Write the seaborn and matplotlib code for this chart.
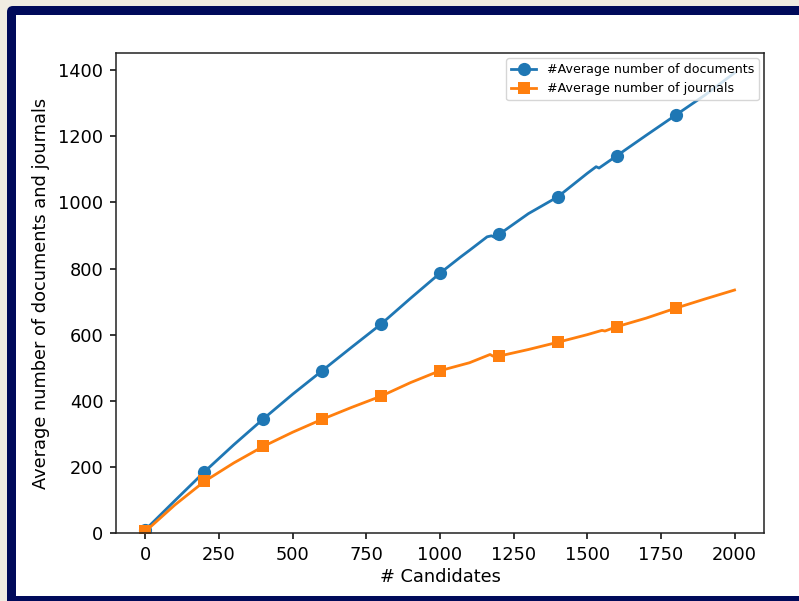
import matplotlib
matplotlib.use("Agg")
import matplotlib.pyplot as plt
from matplotlib.patches import FancyBboxPatch, Rectangle
import seaborn as sns
import pandas as pd

# ---- data ----
candidates_docs = [0, 100, 200, 300, 400, 500, 600, 700, 800, 900, 1000, 1070,
                   1100, 1160, 1175, 1190, 1200, 1300, 1400, 1500, 1530, 1540,
                   1600, 1700, 1800, 1900, 2000]
avg_documents = [10, 98, 185, 267, 345, 420, 491, 562, 632, 710, 786, 835,
                 855, 896, 899, 892, 903, 966, 1017, 1088, 1108, 1104,
                 1141, 1203, 1264, 1325, 1392]
docs_marker_x = [0, 200, 400, 600, 800, 1000, 1200, 1400, 1600, 1800]

candidates_jour = [0, 100, 200, 300, 400, 500, 600, 700, 800, 900, 1000, 1100,
                   1170, 1180, 1200, 1300, 1400, 1500, 1550, 1560, 1600, 1700,
                   1800, 1900, 2000]
avg_journals = [5, 85, 156, 212, 262, 305, 344, 380, 414, 455, 491, 515,
                540, 535, 535, 555, 577, 600, 613, 611, 624, 650,
                680, 708, 735]
jour_marker_x = [0, 200, 400, 600, 800, 1000, 1200, 1400, 1600, 1800]

label_docs = "#Average number of documents"
label_jour = "#Average number of journals"
xlabel = "# Candidates"
ylabel = "Average number of documents and journals"
xticks = [0, 250, 500, 750, 1000, 1250, 1500, 1750, 2000]
yticks = [0, 200, 400, 600, 800, 1000, 1200, 1400]

df_docs = pd.DataFrame({"x": candidates_docs, "y": avg_documents})
df_jour = pd.DataFrame({"x": candidates_jour, "y": avg_journals})

W, H = 799, 601
fig = plt.figure(figsize=(W / 100, H / 100), dpi=100)
fig.patch.set_facecolor("#f0ece2")

# navy frame (cropped on right/bottom)
outer = FancyBboxPatch((7 / 100, -0.5), 9.0, (H - 6) / 100 + 0.5,
                       boxstyle="round,pad=0,rounding_size=0.06",
                       transform=fig.dpi_scale_trans, facecolor="#000a5a",
                       edgecolor="none", zorder=-10)
inner = Rectangle((16 / 100, 5 / 100), 9.0, (H - 15 - 5) / 100,
                  transform=fig.dpi_scale_trans, facecolor="white",
                  edgecolor="none", zorder=-9)
fig.patches.extend([outer, inner])

ax = fig.add_axes([116 / W, (H - 533) / H, (764 - 116) / W, (533 - 53) / H])
ax.set_facecolor("white")

docs_idx = [candidates_docs.index(v) for v in docs_marker_x]
jour_idx = [candidates_jour.index(v) for v in jour_marker_x]

sns.lineplot(data=df_docs, x="x", y="y", ax=ax, color="#1f77b4", linewidth=2.0,
             marker="o", markersize=9.5, markeredgewidth=0, markevery=docs_idx,
             label=label_docs, sort=False)
sns.lineplot(data=df_jour, x="x", y="y", ax=ax, color="#ff7f0e", linewidth=2.0,
             marker="s", markersize=8.8, markeredgewidth=0, markevery=jour_idx,
             label=label_jour, sort=False)

ax.set_xlim(-100, 2100)
ax.set_ylim(0, 1452)
ax.set_xticks(xticks)
ax.set_yticks(yticks)
ax.tick_params(labelsize=12.8, length=4.5, width=1.1, pad=4.5)
ax.set_xlabel(xlabel, fontsize=12.8, labelpad=3)
ax.set_ylabel(ylabel, fontsize=12.8, labelpad=6)
for s in ax.spines.values():
    s.set_linewidth(1.1)
    s.set_color("#222222")

ax.legend(loc="upper right", fontsize=9.1, framealpha=0.8,
          borderaxespad=0.4, handlelength=2.0)

fig.savefig("out.png", dpi=100, facecolor=fig.get_facecolor())
